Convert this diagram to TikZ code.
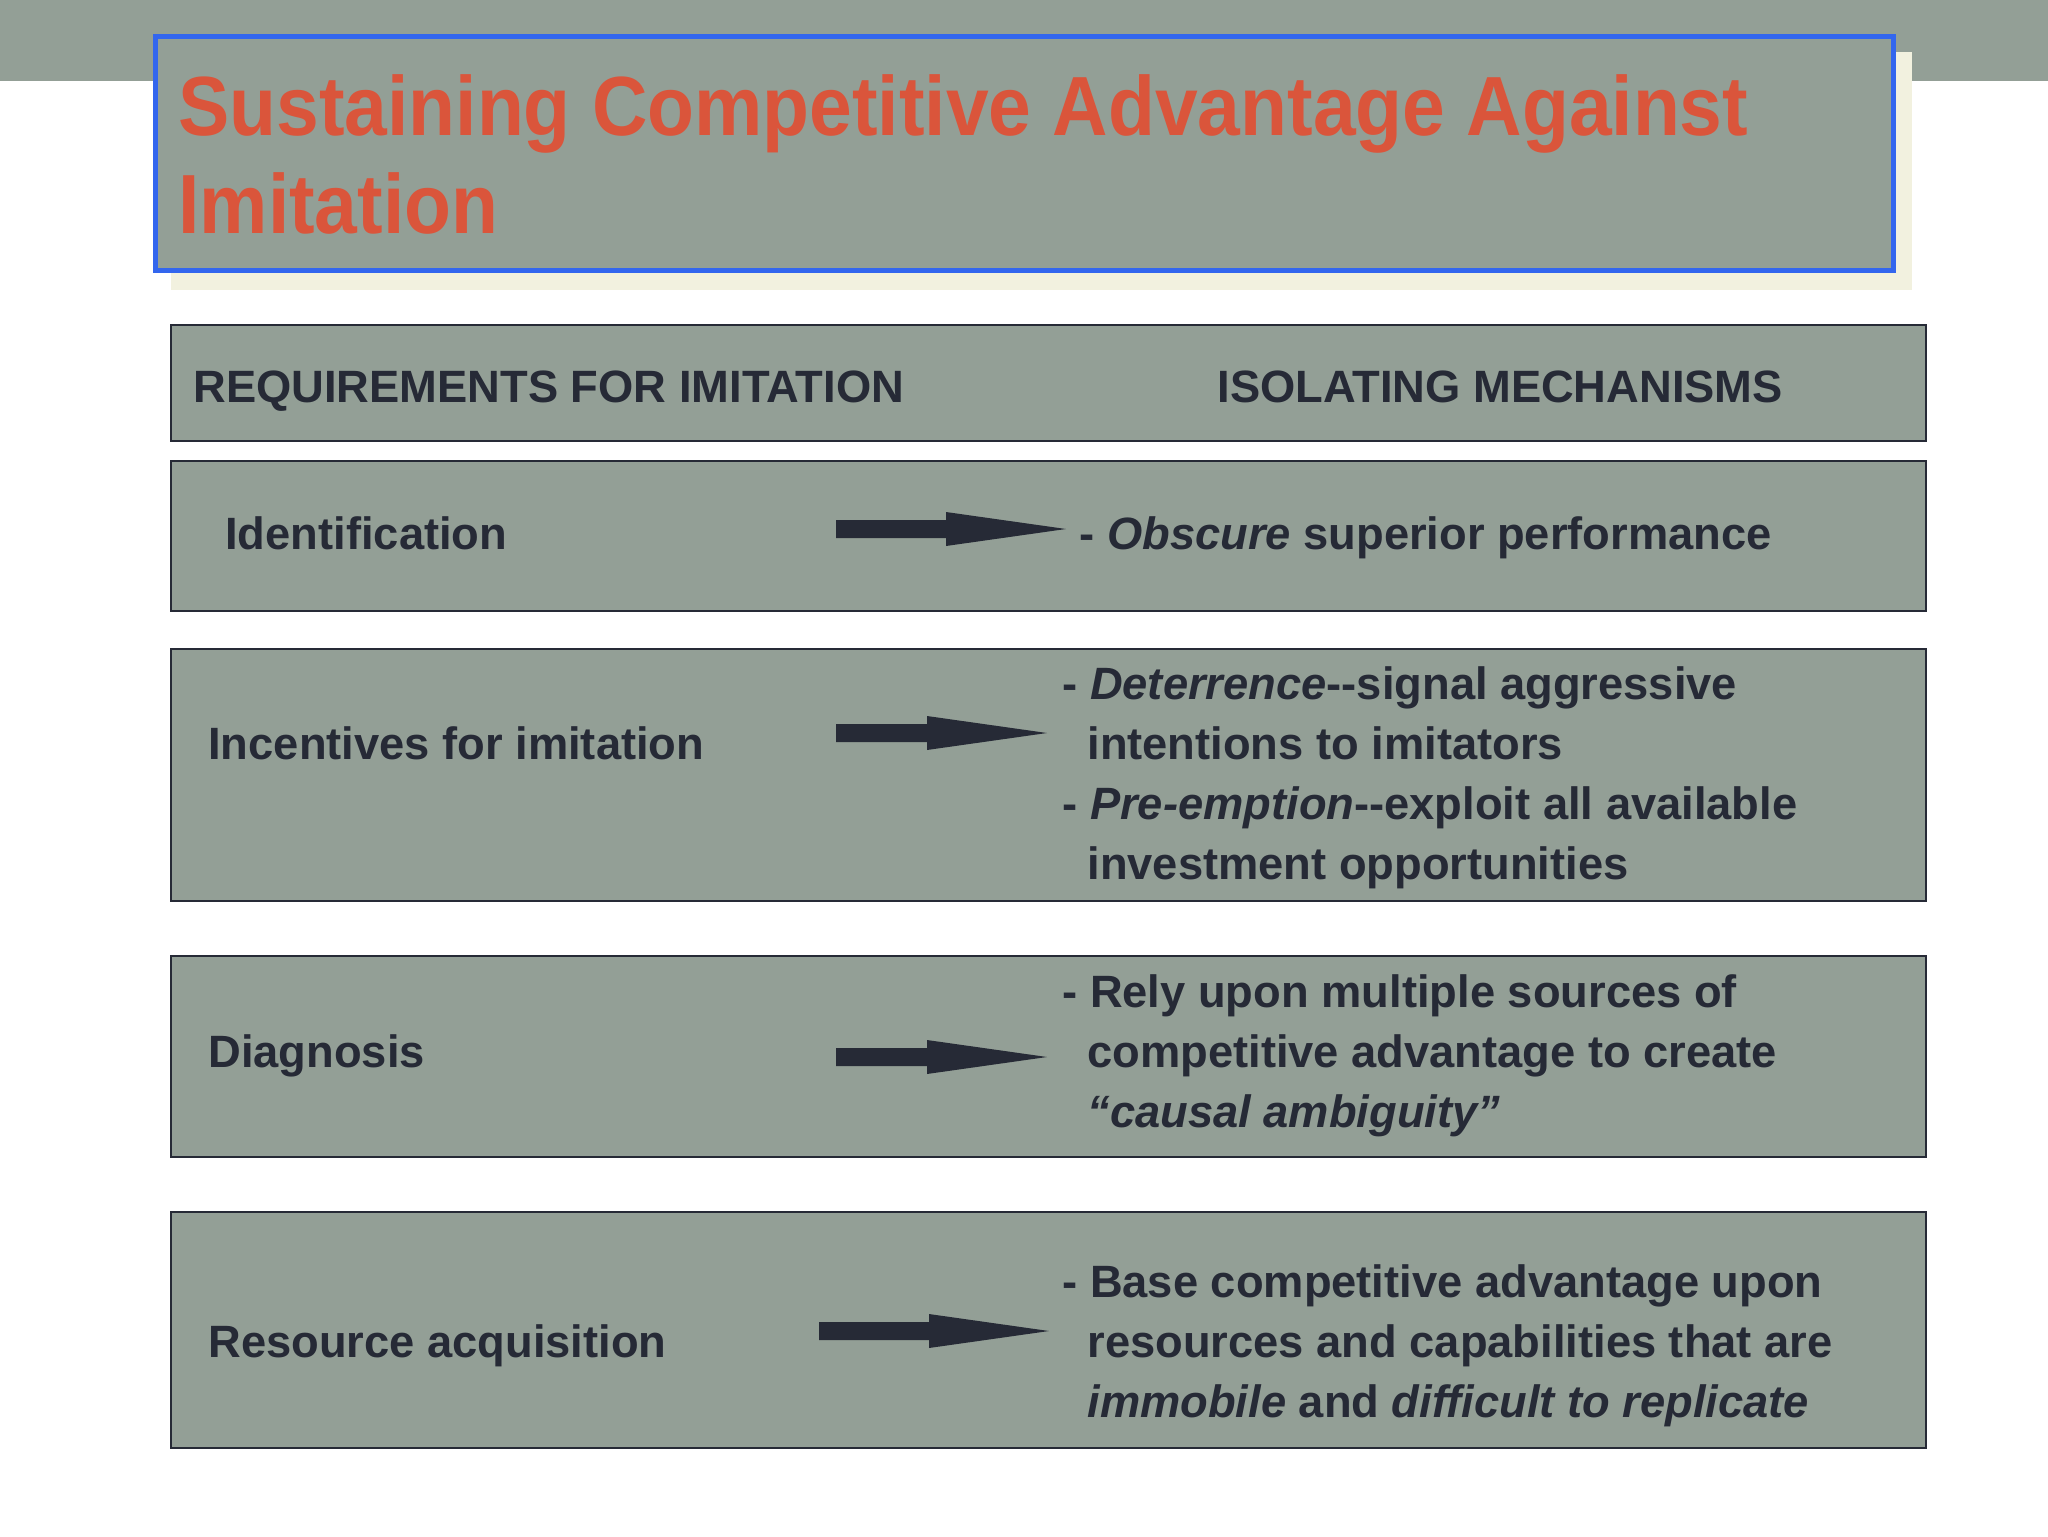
\documentclass[tikz,border=0pt]{standalone}
\usepackage{fontspec}
\setmainfont{Liberation Sans}
\definecolor{slate}{HTML}{939F96}
\definecolor{ink}{HTML}{262A36}
\definecolor{titlered}{HTML}{DA553B}
\definecolor{titleblue}{HTML}{3366EE}
\definecolor{cream}{HTML}{F2F1DF}
\tikzset{
  rowbox/.style={draw=ink, line width=1.4pt, fill=slate},
  txt/.style={anchor=base west, inner sep=0pt, text=ink, font=\fontsize{22.65}{26}\selectfont\bfseries},
  ttl/.style={anchor=base west, inner sep=0pt, text=titlered, font=\fontsize{42}{48}\selectfont\bfseries},
  arrowfill/.style={fill=ink}
}
\newcommand\blockarrow[4]{%
  \coordinate (#4s) at (#1,#3);
  \coordinate (#4t) at (#2+120,#3);
  \fill[arrowfill] (#1,#3-9) -- (#2,#3-9) -- (#2,#3-17) -- (#4t) -- (#2,#3+17) -- (#2,#3+9) -- (#1,#3+9) -- cycle;}
\begin{document}
\begin{tikzpicture}[x=0.5pt,y=-0.5pt]
\useasboundingbox (0,0) rectangle (2048,1536);
\fill[white] (0,0) rectangle (2048,1536);
% top band
\fill[slate] (0,0) rectangle (2048,81);
% title
\fill[cream] (171,52) rectangle (1912,290);
\node[draw=titleblue, line width=2.5pt, fill=slate, minimum width=1738*0.5pt, minimum height=233*0.5pt, inner sep=0pt] (titlebox) at (1024,153.5) {};
\node[ttl] (t1) at (178,135) {\scalebox{0.914}[1]{Sustaining Competitive Advantage Against}};
\node[ttl] (t2) at (178,233) {\scalebox{0.914}[1]{Imitation}};
% rows
\draw[rowbox] (171,325) rectangle (1926,441);
\draw[rowbox] (171,461) rectangle (1926,611);
\draw[rowbox] (171,649) rectangle (1926,901);
\draw[rowbox] (171,956) rectangle (1926,1157);
\draw[rowbox] (171,1212) rectangle (1926,1448);
% header
\node[txt] (h1) at (193,402) {REQUIREMENTS FOR IMITATION};
\node[txt] (h2) at (1217,402) {ISOLATING MECHANISMS};
% row 1
\node[txt] (l1) at (225,549) {Identification};
\blockarrow{836}{946}{529}{a1}
\node[txt] (r1) at (1079,549) {- \itshape Obscure\upshape{} superior performance};
% row 2
\node[txt] (l2) at (208,759) {Incentives for imitation};
\blockarrow{836}{927}{733}{a2}
\node[txt] (r2a) at (1062,699) {- \textit{Deterrence}-{}-signal aggressive};
\node[txt] (r2b) at (1087,759) {intentions to imitators};
\node[txt] (r2c) at (1062,819) {- \textit{Pre-emption}-{}-exploit all available};
\node[txt] (r2d) at (1087,879) {investment opportunities};
% row 3
\node[txt] (l3) at (208,1067) {Diagnosis};
\blockarrow{836}{927}{1057}{a3}
\node[txt] (r3a) at (1062,1007) {- Rely upon multiple sources of};
\node[txt] (r3b) at (1087,1067) {competitive advantage to create};
\node[txt] (r3c) at (1087,1127) {\textit{“causal ambiguity”}};
% row 4
\node[txt] (l4) at (208,1357) {Resource acquisition};
\blockarrow{819}{929}{1331}{a4}
\node[txt] (r4a) at (1062,1297) {- Base competitive advantage upon};
\node[txt] (r4b) at (1087,1357) {resources and capabilities that are};
\node[txt] (r4c) at (1087,1417) {\textit{immobile} and \textit{difficult to replicate}};
\end{tikzpicture}
\end{document}
